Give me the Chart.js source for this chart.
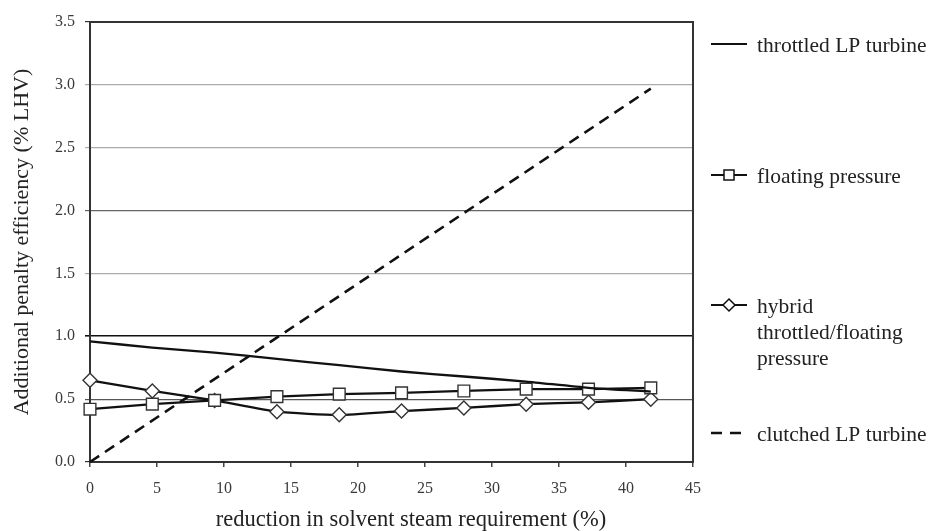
<!DOCTYPE html>
<html><head><meta charset="utf-8">
<script src="https://cdn.jsdelivr.net/npm/chart.js@4.4.1/dist/chart.umd.min.js"></script>
<style>html,body{margin:0;padding:0;background:#fff}#wrap{width:938px;height:531px;position:relative}</style>
</head><body><div id="wrap"><canvas id="c"></canvas></div>
<script>
// ---- data ----
const reduction = [0, 4.65, 9.3, 13.95, 18.6, 23.25, 27.9, 32.55, 37.2, 41.85];
const throttled = [0.96, 0.91, 0.87, 0.82, 0.77, 0.72, 0.68, 0.64, 0.59, 0.56];
const floating  = [0.42, 0.46, 0.49, 0.52, 0.54, 0.55, 0.565, 0.58, 0.58, 0.59];
const hybrid    = [0.65, 0.565, 0.49, 0.40, 0.375, 0.405, 0.43, 0.46, 0.475, 0.50];
const clutchedX = [0, 41.85];
const clutched  = [0, 2.97];
const seriesNames = ['throttled LP turbine', 'floating pressure', 'hybrid throttled/floating pressure', 'clutched LP turbine'];
const legendLines = [['throttled LP turbine'], ['floating pressure'], ['hybrid', 'throttled/floating', 'pressure'], ['clutched LP turbine']];
const xTickValues = [0, 5, 10, 15, 20, 25, 30, 35, 40, 45];
const yTickValues = [0, 0.5, 1.0, 1.5, 2.0, 2.5, 3.0, 3.5];
const xTitle = 'reduction in solvent steam requirement (%)';
const yTitle = 'Additional penalty efficiency (% LHV)';

const toPts = (xs, ys) => xs.map((x, i) => ({x: x, y: ys[i]}));
const SERIF = '"Liberation Serif", "Times New Roman", serif';
const INK = '#111';

function gridColor(v) {
  if (Math.abs(v - 1.0) < 1e-6) return '#111';
  if (Math.abs(v - 0.5) < 1e-6) return '#555';
  if (Math.abs(v - 2.0) < 1e-6) return '#666';
  if (Math.abs(v - 3.5) < 1e-6) return '#333';
  if (Math.abs(v) < 1e-6) return '#333';
  return '#aaa';
}

const framePlugin = {
  id: 'frame',
  beforeDatasetsDraw(chart) {
    const {ctx, chartArea: a} = chart;
    ctx.save();
    ctx.strokeStyle = '#333';
    ctx.lineWidth = 2;
    ctx.strokeRect(a.left, a.top, a.right - a.left, a.bottom - a.top);
    ctx.restore();
  },
  afterDraw(chart) {
    const ctx = chart.ctx;
    ctx.save();
    ctx.fillStyle = '#222';
    ctx.font = '22.5px ' + SERIF;
    ctx.textAlign = 'center';
    ctx.textBaseline = 'middle';
    ctx.fillText(xTitle, 411, 520);
    ctx.restore();
  }
};

const legendPlugin = {
  id: 'sideLegend',
  afterDraw(chart) {
    const ctx = chart.ctx;
    const x0 = 711, x1 = 747, tx = 757;
    const ys = [44, 175, 305, 433];
    ctx.save();
    ctx.strokeStyle = INK;
    ctx.fillStyle = INK;
    ctx.lineWidth = 2;
    ctx.beginPath(); ctx.moveTo(x0, ys[0]); ctx.lineTo(x1, ys[0]); ctx.stroke();
    ctx.beginPath(); ctx.moveTo(x0, ys[1]); ctx.lineTo(x1, ys[1]); ctx.stroke();
    ctx.fillStyle = '#fff'; ctx.lineWidth = 1.5;
    ctx.fillRect(724, ys[1] - 5, 10, 10); ctx.strokeRect(724, ys[1] - 5, 10, 10);
    ctx.lineWidth = 2;
    ctx.beginPath(); ctx.moveTo(x0, ys[2]); ctx.lineTo(x1, ys[2]); ctx.stroke();
    ctx.lineWidth = 1.5;
    ctx.beginPath(); ctx.moveTo(729, ys[2] - 6); ctx.lineTo(735, ys[2]); ctx.lineTo(729, ys[2] + 6); ctx.lineTo(723, ys[2]); ctx.closePath();
    ctx.fill(); ctx.stroke();
    ctx.lineWidth = 2.5;
    ctx.setLineDash([11, 8]);
    ctx.beginPath(); ctx.moveTo(x0, ys[3]); ctx.lineTo(x1 - 3, ys[3]); ctx.stroke();
    ctx.setLineDash([]);
    ctx.fillStyle = '#222';
    ctx.font = '21.5px ' + SERIF;
    ctx.textBaseline = 'middle';
    ctx.textAlign = 'left';
    legendLines.forEach((lines, i) => {
      lines.forEach((t, j) => ctx.fillText(t, tx, ys[i] + 2 + j * 26));
    });
    ctx.restore();
  }
};

new Chart(document.getElementById('c'), {
  type: 'scatter',
  data: {
    datasets: [
      {label: seriesNames[0], data: toPts(reduction, throttled), showLine: true, borderColor: INK, borderWidth: 2.3, pointRadius: 0, tension: 0.2, clip: false},
      {label: seriesNames[1], data: toPts(reduction, floating), showLine: true, borderColor: INK, borderWidth: 2.3, pointStyle: 'rect', pointRadius: 8.3, pointBorderWidth: 1.4, pointBackgroundColor: '#fff', pointBorderColor: '#333', clip: false},
      {label: seriesNames[2], data: toPts(reduction, hybrid), showLine: true, borderColor: INK, borderWidth: 2.3, pointStyle: 'rectRot', pointRadius: 7, pointBorderWidth: 1.4, pointBackgroundColor: '#fff', pointBorderColor: '#333', tension: 0.2, clip: false},
      {label: seriesNames[3], data: toPts(clutchedX, clutched), showLine: true, borderColor: INK, borderWidth: 2.6, borderDash: [11, 7], pointRadius: 0, clip: false}
    ]
  },
  options: {
    responsive: true,
    maintainAspectRatio: false,
    animation: false,
    events: [],
    layout: {padding: {left: 0, top: 22, right: 245, bottom: 0}},
    plugins: {legend: {display: false}, tooltip: {enabled: false}},
    scales: {
      x: {
        type: 'linear', min: 0, max: 45,
        afterBuildTicks: s => { s.ticks = xTickValues.map(v => ({value: v})); },
        afterFit: s => { s.height = 69; },
        ticks: {color: '#3a3a3a', font: {family: SERIF, size: 16}, padding: 12, callback: v => String(v)},
        grid: {drawOnChartArea: false, drawTicks: true, tickLength: 5, color: '#444', lineWidth: 1.5},
        border: {display: true, color: '#333', width: 2},
        title: {display: false, text: xTitle}
      },
      y: {
        type: 'linear', min: 0, max: 3.5,
        afterBuildTicks: s => { s.ticks = yTickValues.map(v => ({value: v})); },
        afterFit: s => { s.width = 90; },
        ticks: {color: '#3a3a3a', font: {family: SERIF, size: 16}, padding: 10, callback: v => Number(v).toFixed(1)},
        grid: {drawOnChartArea: true, drawTicks: true, tickLength: 5,
               color: c => gridColor(c.tick ? c.tick.value : 0),
               lineWidth: c => (c.tick && Math.abs(c.tick.value - 1) < 1e-6) ? 1.6 : 1.2},
        border: {display: true, color: '#333', width: 2},
        title: {display: true, text: yTitle, color: '#222', font: {family: SERIF, size: 22, lineHeight: 1}, padding: {top: 11, bottom: 0}}
      }
    }
  },
  plugins: [framePlugin, legendPlugin]
});
</script>
</body></html>
